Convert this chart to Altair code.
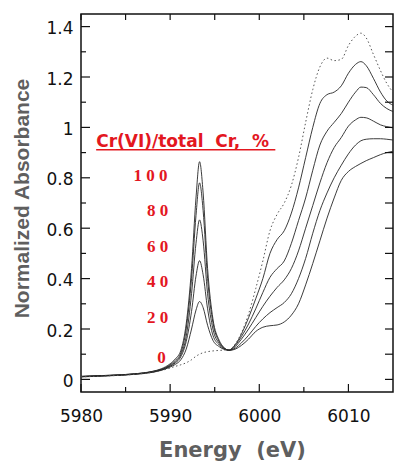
import altair as alt
import pandas as pd

# ---- data ----
energy = [5980, 5983, 5986, 5988, 5989, 5990, 5990.6, 5991.2, 5991.8, 5992.4,
          5992.9, 5993.3, 5993.7, 5994.2, 5994.8, 5995.5, 5996.0, 5996.6, 5997.3, 5998.0,
          5998.8, 5999.6, 6000.4, 6001.2, 6002.0, 6002.8, 6003.6, 6004.4, 6005.2, 6006.0,
          6006.8, 6007.6, 6008.4, 6009.2, 6010.0, 6010.8, 6011.4, 6012.0, 6012.8, 6013.6,
          6014.3, 6015]

abs_0 = [0.010, 0.014, 0.020, 0.028, 0.035, 0.045, 0.052, 0.058, 0.066, 0.078,
         0.092, 0.100, 0.106, 0.110, 0.113, 0.115, 0.116, 0.118, 0.140, 0.185,
         0.26, 0.36, 0.47, 0.59, 0.655, 0.70, 0.77, 0.88, 1.02, 1.15,
         1.24, 1.275, 1.265, 1.27, 1.325, 1.362, 1.374, 1.355, 1.29, 1.225,
         1.175, 1.14]
abs_20 = [0.010, 0.014, 0.020, 0.028, 0.036, 0.049, 0.060, 0.078, 0.12, 0.20,
          0.275, 0.309, 0.285, 0.215, 0.155, 0.13, 0.12, 0.117, 0.138, 0.18,
          0.245, 0.32, 0.40, 0.50, 0.555, 0.59, 0.66, 0.76, 0.88, 1.00,
          1.095, 1.13, 1.14, 1.165, 1.215, 1.25, 1.261, 1.245, 1.195, 1.14,
          1.105, 1.088]
abs_40 = [0.011, 0.015, 0.021, 0.029, 0.037, 0.052, 0.066, 0.09, 0.15, 0.27,
          0.41, 0.471, 0.415, 0.28, 0.175, 0.137, 0.122, 0.116, 0.135, 0.17,
          0.22, 0.28, 0.345, 0.405, 0.44, 0.47, 0.54, 0.63, 0.72, 0.83,
          0.93, 0.985, 1.02, 1.055, 1.10, 1.14, 1.16, 1.158, 1.13, 1.095,
          1.075, 1.063]
abs_60 = [0.011, 0.015, 0.021, 0.030, 0.038, 0.055, 0.070, 0.097, 0.17, 0.34,
          0.54, 0.633, 0.55, 0.34, 0.20, 0.143, 0.124, 0.116, 0.13, 0.16,
          0.20, 0.245, 0.29, 0.33, 0.365, 0.395, 0.44, 0.51, 0.60, 0.69,
          0.78, 0.86, 0.92, 0.96, 1.005, 1.03, 1.04, 1.038, 1.025, 1.01,
          1.003, 0.998]
abs_80 = [0.012, 0.016, 0.022, 0.031, 0.040, 0.058, 0.076, 0.105, 0.20, 0.40,
          0.65, 0.78, 0.67, 0.40, 0.225, 0.15, 0.126, 0.116, 0.124, 0.145,
          0.175, 0.21, 0.24, 0.265, 0.285, 0.305, 0.34, 0.40, 0.48, 0.58,
          0.67, 0.74, 0.80, 0.85, 0.895, 0.93, 0.947, 0.953, 0.955, 0.955,
          0.953, 0.95]
abs_100 = [0.012, 0.016, 0.022, 0.032, 0.042, 0.062, 0.082, 0.115, 0.22, 0.44,
           0.72, 0.864, 0.74, 0.44, 0.24, 0.155, 0.128, 0.115, 0.12, 0.135,
           0.16, 0.19, 0.207, 0.213, 0.216, 0.228, 0.255, 0.30, 0.375, 0.46,
           0.55, 0.64, 0.72, 0.79, 0.825, 0.845, 0.857, 0.868, 0.88, 0.892,
           0.90, 0.905]

solid_series = {"20": abs_20, "40": abs_40, "60": abs_60, "80": abs_80, "100": abs_100}

NB = "\u00a0"
label_texts = ["1" + NB + "0" + NB + "0", "8" + NB + "0", "6" + NB + "0",
               "4" + NB + "0", "2" + NB + "0", "0"]
header_text = "Cr(VI)/total" + NB * 2 + "Cr," + NB * 2 + "%"
x_title = "Energy" + NB * 2 + "(eV)"
y_title = "Normalized Absorbance"

y_tick_values = [0, 0.2, 0.4, 0.6, 0.8, 1, 1.2, 1.4]
y_minor_values = [0.1, 0.3, 0.5, 0.7, 0.9, 1.1, 1.3]
x_tick_values = [5980, 5990, 6000, 6010]
x_minor_values = [5985, 5995, 6005]

# ---- annotation placement (data coordinates) ----
label_x = [5989.7, 5989.8, 5989.8, 5989.8, 5989.8, 5989.5]
label_y = [0.787, 0.650, 0.507, 0.368, 0.223, 0.066]
header_x, header_y = 5981.7, 0.923
underline_x2, underline_y = 6001.8, 0.911

# ---- tables ----
rows = []
for name, vals in solid_series.items():
    for e, v in zip(energy, vals):
        rows.append({"E": e, "A": v, "pct": name})
df_solid = pd.DataFrame(rows)
df_dot = pd.DataFrame({"E": energy, "A": abs_0})
df_labels = pd.DataFrame({"E": label_x, "A": label_y, "t": label_texts})
df_header = pd.DataFrame({"E": [header_x], "A": [header_y], "t": [header_text]})
df_under = pd.DataFrame({"E": [header_x], "E2": [underline_x2], "A": [underline_y]})

xs = alt.Scale(domain=[5980, 6015], nice=False, zero=False)
ys = alt.Scale(domain=[-0.05, 1.45], nice=False, zero=False)

x_axis = alt.Axis(values=x_tick_values, ticks=False, tickSize=0, domain=False, grid=False,
                  format="d",
                  labelFont="DejaVu Sans", labelFontSize=17, labelColor="#111111",
                  labelBaseline="alphabetic", labelPadding=29, labelFlush=False,
                  titleFont="DejaVu Sans", titleFontSize=21,
                  titleFontWeight="bold", titleColor="#5f5f5f", titleX=151, titleY=64.5,
                  titleBaseline="alphabetic")
y_axis = alt.Axis(values=y_tick_values, ticks=False, tickSize=0, domain=False, grid=False,
                  labelFont="DejaVu Sans", labelFontSize=17, labelColor="#111111",
                  labelPadding=8, labelOffset=2, labelFlush=False, format="~g",
                  titleFont="Liberation Sans",
                  titleFontSize=21, titleFontWeight="bold", titleColor="#5f5f5f",
                  titleX=-53, titleY=184, titleBaseline="alphabetic", titleAngle=270)

X = alt.X("E:Q", scale=xs, axis=x_axis, title=x_title)
Y = alt.Y("A:Q", scale=ys, axis=y_axis, title=y_title)

solid = alt.Chart(df_solid).mark_line(
    interpolate="monotone", color="#262626", strokeWidth=0.9, clip=True
).encode(x=X, y=Y, detail="pct:N")

dotted = alt.Chart(df_dot).mark_line(
    interpolate="monotone", color="#555555", strokeWidth=1, strokeDash=[1.5, 2.5], clip=True
).encode(x=X, y=Y)

W, H = 312, 378

def hticks(values, x0, x1):
    d = pd.DataFrame({"A": values})
    return alt.Chart(d).mark_rule(color="#111111", strokeWidth=1.2).encode(
        y=Y, x=alt.value(x0), x2=alt.value(x1))

def vticks(values, y0, y1):
    d = pd.DataFrame({"E": values})
    return alt.Chart(d).mark_rule(color="#111111", strokeWidth=1.2).encode(
        x=X, y=alt.value(y0), y2=alt.value(y1))

ticks = [
    hticks(y_tick_values, 0, 9),
    hticks(y_minor_values, 0, 5),
    hticks(y_tick_values + y_minor_values, W, W - 8),
    vticks(x_tick_values + x_minor_values, 0, 6),
    vticks(x_tick_values, H, H - 8),
    vticks(x_minor_values, H, H - 5),
]

labels = alt.Chart(df_labels).mark_text(
    align="right", baseline="alphabetic", font="Liberation Serif", fontWeight="bold",
    fontSize=17, color="#e3171f"
).encode(x=X, y=Y, text="t:N")

header = alt.Chart(df_header).mark_text(
    align="left", baseline="alphabetic", font="DejaVu Sans", fontWeight="bold",
    fontSize=17, color="#e3171f"
).encode(x=X, y=Y, text="t:N")

underline = alt.Chart(df_under).mark_rule(color="#e3171f", strokeWidth=1.5).encode(
    x=X, x2="E2:Q", y=Y)

chart = alt.layer(solid, dotted, *ticks, labels, header, underline).properties(
    width=W, height=H,
    autosize=alt.AutoSizeParams(type="none"),
    padding={"left": 81, "top": 14, "right": 6, "bottom": 73},
    background="white",
).configure_view(stroke="#111111", strokeWidth=1.5)

chart.save("out.html", embed_options={"renderer": "svg", "actions": False})
